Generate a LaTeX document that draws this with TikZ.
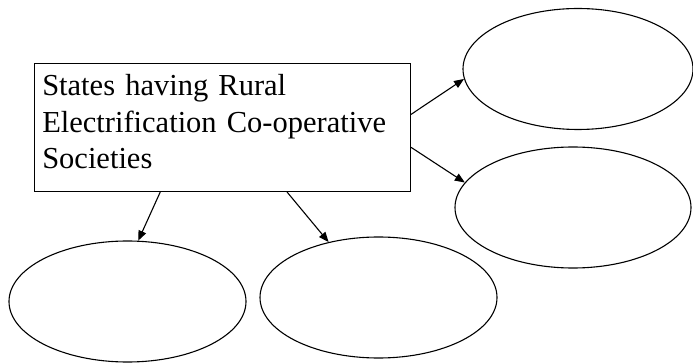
\documentclass[tikz,border=0pt]{standalone}
\usepackage{fontspec}
\setmainfont{Liberation Serif}
\usepackage{tikz}
\usetikzlibrary{arrows.meta,shapes.geometric}
\tikzset{
  titlebox/.style={draw, line width=1.1pt, rectangle, anchor=north west,
    inner xsep=7.7pt, inner ysep=0pt, minimum width=376pt,
    text width=360.6pt, align=left,
    font=\fontsize{30.5pt}{36.5pt}\selectfont},
  blank/.style={draw, line width=1.1pt, ellipse, inner sep=0pt},
  feed/.style={-{Triangle[length=10pt,width=8pt]}, line width=1.1pt},
}

\begin{document}
\begin{tikzpicture}[x=1pt,y=-1pt]
    \useasboundingbox (0,0) rectangle (693,363);
    % Main box
    \node[titlebox] (coop) at (34,63)
      {\rule{0pt}{32pt}States having Rural\\
       Electrification Co-operative\\
       Societies\rule[-23pt]{0pt}{23pt}};
    % Empty ellipses
    \node[blank, minimum width=230pt, minimum height=121pt] (stA) at (578,69) {};
    \node[blank, minimum width=236pt, minimum height=121pt] (stB) at (573,207.5) {};
    \node[blank, minimum width=237pt, minimum height=121pt] (stC) at (127.5,301.5) {};
    \node[blank, minimum width=237pt, minimum height=121pt] (stD) at (378.5,297.5) {};
    % Arrows
    \draw[feed] (coop.4.3) -- (stA.185);
    \draw[feed] (coop.-6.4) -- (stB.167.3);
    \draw[feed] (coop.226.2) -- (stC.80.2);
    \draw[feed] (coop.315.4) -- (stD.132.4);
  \end{tikzpicture}
\end{document}
